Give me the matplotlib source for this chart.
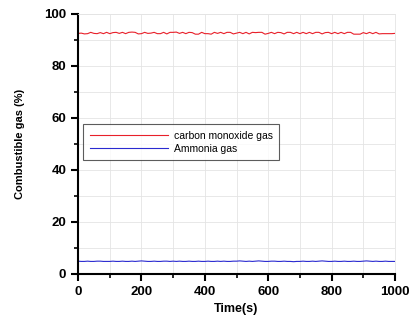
import matplotlib.pyplot as plt
from matplotlib.ticker import MultipleLocator

time_s = list(range(0, 1001, 10))
co_gas = [92.5, 92.6, 92.3, 92.4, 92.9, 92.5, 92.4, 92.8, 92.4, 92.9,
          92.4, 92.8, 92.9, 92.5, 92.9, 92.4, 92.9, 93.0, 92.9, 92.3,
          92.4, 92.9, 92.5, 92.6, 92.9, 92.4, 92.4, 92.9, 92.3, 92.9,
          92.9, 93.0, 92.5, 92.9, 92.4, 92.9, 92.8, 92.2, 92.2, 92.9,
          92.4, 92.4, 92.2, 92.9, 92.5, 92.9, 92.4, 92.9, 92.9, 92.3,
          92.6, 92.9, 92.4, 92.9, 92.3, 92.9, 92.8, 92.9, 92.9, 92.2,
          92.5, 92.9, 92.4, 92.9, 92.8, 92.3, 92.9, 92.9, 92.4, 92.9,
          92.4, 92.9, 92.4, 92.9, 92.4, 92.9, 92.9, 92.3, 92.8, 92.9,
          92.4, 92.9, 92.4, 92.9, 92.4, 92.9, 92.9, 92.2, 92.2, 92.2,
          92.8, 92.4, 92.9, 92.4, 92.9, 92.3, 92.4, 92.4, 92.4, 92.4, 92.5]
ammonia_gas = [4.9, 4.8, 4.8, 4.9, 4.8, 4.8, 4.9, 4.9, 4.8, 4.8,
               4.8, 4.9, 4.8, 4.8, 4.9, 4.8, 4.8, 4.9, 4.8, 4.9,
               5.0, 4.9, 4.8, 4.8, 4.9, 4.8, 4.8, 4.9, 4.9, 4.8,
               4.9, 4.8, 4.9, 4.8, 4.8, 4.9, 4.8, 4.8, 4.9, 4.8,
               4.8, 4.9, 4.8, 4.8, 4.9, 4.8, 4.9, 4.8, 4.8, 4.9,
               4.9, 5.0, 4.9, 4.8, 4.9, 4.8, 4.9, 5.0, 4.9, 4.8,
               4.8, 4.9, 4.9, 4.8, 4.8, 4.9, 4.8, 4.8, 4.7, 4.8,
               4.8, 4.9, 4.8, 4.8, 4.9, 4.8, 4.9, 5.0, 4.9, 4.8,
               4.8, 4.9, 4.8, 4.8, 4.9, 4.8, 4.8, 4.9, 4.8, 4.8,
               4.9, 5.0, 4.9, 4.8, 4.9, 4.8, 4.8, 4.9, 4.8, 4.8, 4.8]

plt.rcParams['font.family'] = ['Liberation Sans', 'DejaVu Sans']

fig = plt.figure(figsize=(4.11, 3.23), dpi=100)
ax = fig.add_axes([0.19, 0.152, 0.771, 0.805])

ax.plot(time_s, co_gas, color='#e8202a', lw=0.8, label='carbon monoxide gas')
ax.plot(time_s, ammonia_gas, color='#2a2ad0', lw=0.8, label='Ammonia gas')

ax.set_xlim(0, 1000)
ax.set_ylim(0, 100)
ax.xaxis.set_major_locator(MultipleLocator(200))
ax.xaxis.set_minor_locator(MultipleLocator(100))
ax.yaxis.set_major_locator(MultipleLocator(20))
ax.yaxis.set_minor_locator(MultipleLocator(10))
ax.grid(which='both', color='#e4e4e4', lw=0.6)
ax.set_axisbelow(True)

for side in ('top', 'right'):
    ax.spines[side].set_color('#e4e4e4')
    ax.spines[side].set_linewidth(0.6)
for side in ('left', 'bottom'):
    ax.spines[side].set_linewidth(1.5)

ax.tick_params(which='major', direction='out', length=5, width=1.5,
               labelsize=9.5, top=False, right=False)
ax.tick_params(which='minor', direction='out', length=3, width=1.2,
               top=False, right=False)
for lbl in ax.get_xticklabels() + ax.get_yticklabels():
    lbl.set_fontweight('bold')

ax.set_xlabel('Time(s)', fontsize=9, fontweight='bold', labelpad=4)
ax.set_ylabel('Combustible gas (%)', fontsize=8, fontweight='bold', labelpad=14)

leg = ax.legend(loc='upper left', bbox_to_anchor=(0.0, 0.595), fontsize=7.5,
                handlelength=7.5, handletextpad=0.6, frameon=True,
                fancybox=False, borderpad=0.6, labelspacing=0.3)
leg.get_frame().set_edgecolor('#333333')
leg.get_frame().set_linewidth(0.8)

fig.savefig('out.png', dpi=100)
